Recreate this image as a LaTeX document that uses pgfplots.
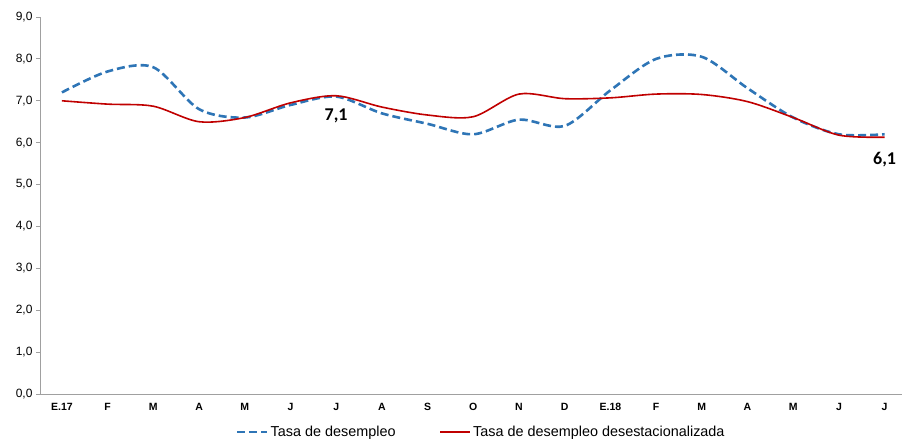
\documentclass[border=0pt]{standalone}
\usepackage{pgfplots}
\pgfplotsset{compat=1.18}
\usepackage{fontspec}
\setmainfont{Liberation Sans}
\newfontfamily\carlito{Carlito}
\definecolor{serieblue}{RGB}{46,117,182}
\definecolor{seriered}{RGB}{192,0,0}
\definecolor{axgray}{RGB}{160,160,160}
\begin{document}
\begin{tikzpicture}
\begin{axis}[
  scale only axis,
  width=862pt, height=377pt,
  xmin=-0.48, xmax=18.38,
  ymin=0, ymax=9,
  axis x line=bottom, axis y line=left,
  axis line style={-, draw=axgray, line width=0.8pt},
  xtick={0,...,18},
  xticklabels={E.17,F,M,A,M,J,J,A,S,O,N,D,E.18,F,M,A,M,J,J},
  xtick style={draw=none},
  xticklabel style={font=\bfseries\fontsize{10.5}{12}\selectfont, yshift=-2pt},
  ytick={0,...,9},
  ytick style={draw=axgray, line width=0.8pt},
  tick align=outside,
  major tick length=4pt,
  yticklabel style={font=\fontsize{12}{14}\selectfont, /pgf/number format/.cd, use comma, fixed, fixed zerofill, precision=1, assume math mode=true},
  legend style={draw=none, fill=none, at={(axis description cs:0.512,-0.101)}, anchor=center,
    font=\fontsize{14.4}{16}\selectfont, /tikz/every even column/.append style={column sep=42pt}},
  legend columns=2,
  legend image code/.code={\draw[#1] (0pt,0pt) -- (30pt,0pt);},
  clip=false,
]
\addplot[serieblue, line width=2.6pt, dash pattern=on 8pt off 4pt, smooth, tension=0.5] coordinates {
(0,7.2) (1,7.7) (2,7.8) (3,6.8) (4,6.6) (5,6.9) (6,7.1) (7,6.7) (8,6.45) (9,6.2)
(10,6.55) (11,6.4) (12,7.25) (13,8.0) (14,8.05) (15,7.3) (16,6.6) (17,6.2) (18,6.2)};
\addlegendentry{Tasa de desempleo}
\addplot[seriered, line width=1.6pt, smooth, tension=0.5] coordinates {
(0,7.0) (1,6.92) (2,6.87) (3,6.5) (4,6.6) (5,6.95) (6,7.12) (7,6.85) (8,6.66) (9,6.62)
(10,7.16) (11,7.05) (12,7.07) (13,7.16) (14,7.15) (15,6.98) (16,6.6) (17,6.18) (18,6.13)};
\addlegendentry{Tasa de desempleo desestacionalizada}
\node[font=\carlito\bfseries\fontsize{18}{20}\selectfont] at (axis cs:6,6.63) {7,1};
\node[font=\carlito\bfseries\fontsize{18}{20}\selectfont] at (axis cs:18,5.59) {6,1};
\end{axis}
\pgfresetboundingbox
\path (-40pt,-46pt) rectangle (862pt,394pt);
\end{tikzpicture}
\end{document}
